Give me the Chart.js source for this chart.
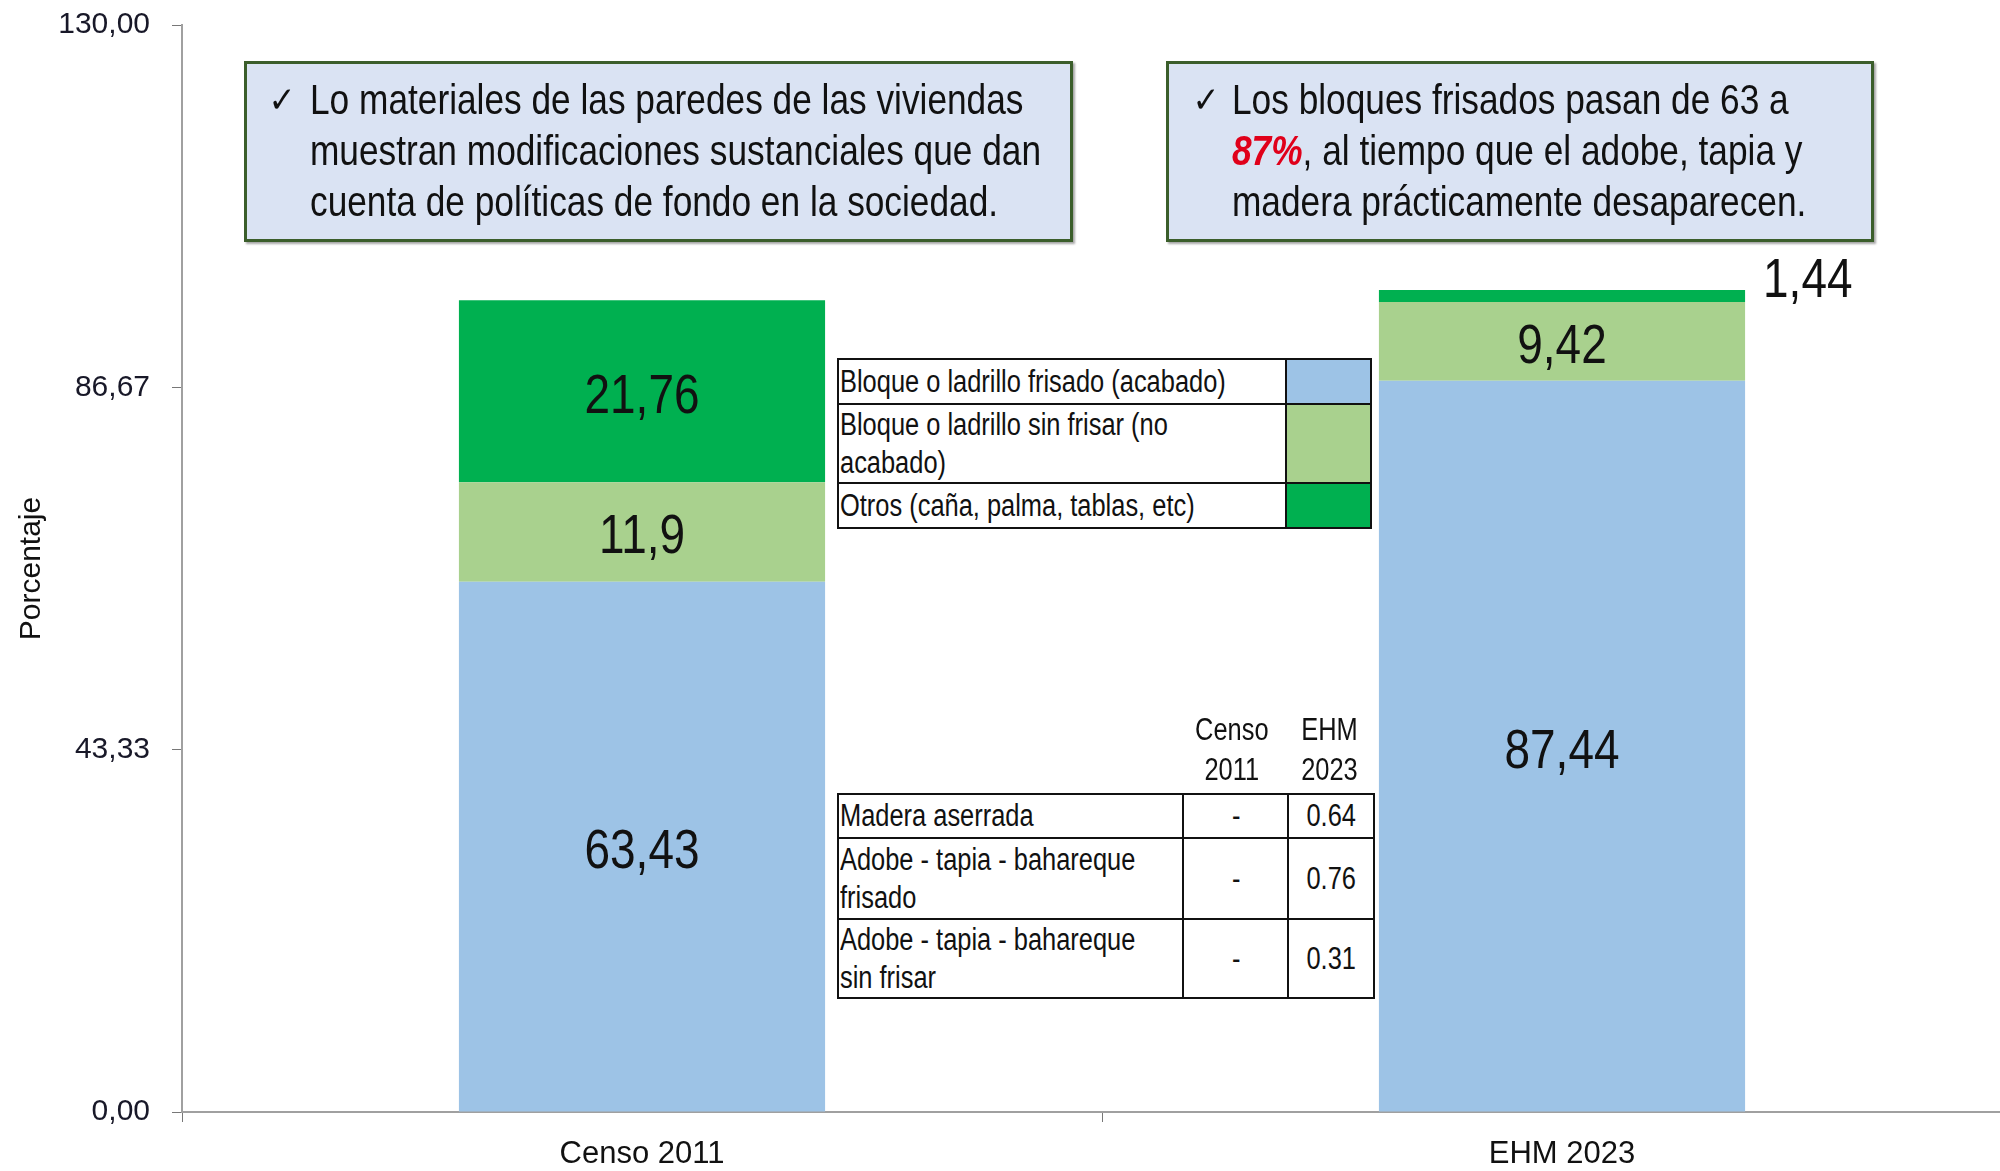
<!DOCTYPE html>
<html>
<head>
<meta charset="utf-8">
<script src="https://cdn.jsdelivr.net/npm/chart.js@4.4.1/dist/chart.umd.min.js"></script>
<style>
  html, body { margin: 0; padding: 0; background: #fff; overflow: hidden; }
  #wrap { position: relative; width: 2030px; height: 1171px; }
  canvas { position: absolute; left: 0; top: 0; }
  .narrow { font-family: 'Liberation Sans', Arial, sans-serif; color: #111; }
  .sq { display: inline-block; white-space: nowrap; transform: scaleX(0.82); transform-origin: 0 50%; }
  .sqc { display: inline-block; white-space: nowrap; transform: scaleX(0.82); transform-origin: 50% 50%; }
  .note {
    position: absolute; box-sizing: border-box;
    background: #dae3f3; border: 3px solid #3b5e2b;
    box-shadow: 2px 2px 2px rgba(0,0,0,0.35);
  }
  .note .chk { position: absolute; top: 10px; font-family: 'DejaVu Sans', sans-serif; font-size: 36px; line-height: 51px; color: #111; transform: scaleX(0.9); }
  .note .txt { position: absolute; top: 10px; font-size: 43px; line-height: 51px; white-space: nowrap; transform: scaleX(0.82); transform-origin: 0 0; }
  .red { color: #e0001a; font-weight: bold; font-style: italic; }
  table { position: absolute; border-collapse: collapse; background: #fff; table-layout: fixed; }
  td { border: 2px solid #111; padding: 0 0 0 1px; font-size: 31px; line-height: 38px; vertical-align: middle; overflow: visible; }
  .hdr { position: absolute; font-size: 31px; line-height: 40px; text-align: center; }
</style>
</head>
<body>
<div id="wrap">
  <canvas id="chart" width="2030" height="1171"></canvas>

  <div class="note narrow" style="left:244px; top:61px; width:829px; height:181px;">
    <span class="chk" style="left:20px;">✓</span>
    <div class="txt" style="left:63px;">Lo materiales de las paredes de las viviendas<br>muestran modificaciones sustanciales que dan<br>cuenta de políticas de fondo en la sociedad.</div>
  </div>
  <div class="note narrow" style="left:1166px; top:61px; width:708px; height:181px;">
    <span class="chk" style="left:22px;">✓</span>
    <div class="txt" style="left:63px;">Los bloques frisados pasan de 63 a<br><span class="red">87%</span>, al tiempo que el adobe, tapia y<br>madera prácticamente desaparecen.</div>
  </div>

  <table id="legend" class="narrow" style="left:837px; top:358px; width:535px;"></table>

  <div class="hdr narrow" style="left:1180px; top:710px; width:103px;"><span class="sqc">Censo<br>2011</span></div>
  <div class="hdr narrow" style="left:1283px; top:710px; width:92px;"><span class="sqc">EHM<br>2023</span></div>
  <table id="others" class="narrow" style="left:837px; top:793px; width:538px;"></table>
</div>

<script>
const categories = ['Censo 2011', 'EHM 2023'];
const seriesNames = [
  'Bloque o ladrillo frisado (acabado)',
  'Bloque o ladrillo sin frisar (no acabado)',
  'Otros (caña, palma, tablas, etc)'
];
const frisado = [63.43, 87.44];
const sinFrisar = [11.9, 9.42];
const otros = [21.76, 1.44];
const seriesColors = ['#9dc3e6', '#a9d18e', '#00b050'];
const yTickValues = [0, 43.33, 86.67, 130];

const otherMaterials = ['Madera aserrada', 'Adobe - tapia - bahareque frisado', 'Adobe - tapia - bahareque sin frisar'];
const otherCenso = ['-', '-', '-'];
const otherEhm = [0.64, 0.76, 0.31];

const SANS = "'Liberation Sans', Arial, sans-serif";

// legend table
const legendRows = [45, 79, 45];
document.getElementById('legend').innerHTML = seriesNames.map((name, i) =>
  '<tr style="height:' + legendRows[i] + 'px"><td style="width:445px"><span class="sq">' +
  name.replace(' (no acabado)', ' (no<br>acabado)') +
  '</span></td><td style="background:' + seriesColors[i] + '"></td></tr>'
).join('');

// other materials table
const otherRows = [44, 81, 79];
document.getElementById('others').innerHTML = otherMaterials.map((name, i) =>
  '<tr style="height:' + otherRows[i] + 'px"><td style="width:342px"><span class="sq">' +
  name.replace('bahareque ', 'bahareque<br>') +
  '</span></td><td style="width:102px;text-align:center"><span class="sqc">' + otherCenso[i] +
  '</span></td><td style="text-align:center"><span class="sqc">' + otherEhm[i].toFixed(2) + '</span></td></tr>'
).join('');

// numbers on the bars, squeezed like the narrow font of the original
const valueLabels = {
  id: 'valueLabels',
  afterDatasetsDraw(chart) {
    const ctx = chart.ctx;
    chart.data.datasets.forEach((ds, i) => {
      chart.getDatasetMeta(i).data.forEach((bar, j) => {
        const txt = String(ds.data[j]).replace('.', ',');
        const h = bar.base - bar.y;
        ctx.save();
        ctx.font = '56px ' + SANS;
        ctx.fillStyle = '#111';
        if (h > 60) {
          ctx.translate(bar.x, (bar.y + bar.base) / 2 + 6);
          ctx.scale(0.82, 1);
          ctx.textAlign = 'center';
          ctx.textBaseline = 'middle';
          ctx.fillText(txt, 0, 0);
        } else {
          ctx.translate(bar.x + bar.width / 2 + 18, bar.y + 7);
          ctx.scale(0.82, 1);
          ctx.textAlign = 'left';
          ctx.textBaseline = 'alphabetic';
          ctx.fillText(txt, 0, 0);
        }
        ctx.restore();
      });
    });
  }
};

new Chart(document.getElementById('chart'), {
  type: 'bar',
  data: {
    labels: categories,
    datasets: [
      { label: seriesNames[0], data: frisado, backgroundColor: seriesColors[0] },
      { label: seriesNames[1], data: sinFrisar, backgroundColor: seriesColors[1] },
      { label: seriesNames[2], data: otros, backgroundColor: seriesColors[2] }
    ]
  },
  options: {
    responsive: false,
    animation: false,
    devicePixelRatio: 1,
    categoryPercentage: 1,
    barPercentage: 0.398,
    layout: { padding: { top: 25, right: 8, left: 0, bottom: 0 } },
    plugins: {
      legend: { display: false },
      tooltip: { enabled: false }
    },
    scales: {
      x: {
        stacked: true,
        grid: { drawOnChartArea: false, drawTicks: true, tickLength: 10, color: '#777', offset: true },
        border: { color: '#a0a0a0', width: 2 },
        ticks: { color: '#111', font: { family: SANS, size: 31 }, padding: 14 },
        afterFit: s => { s.height = 59; }
      },
      y: {
        stacked: true,
        min: 0,
        max: 130,
        afterBuildTicks: s => { s.ticks = yTickValues.map(v => ({ value: v })); },
        grid: { drawOnChartArea: false, drawTicks: true, tickLength: 10, color: '#777' },
        border: { color: '#a0a0a0', width: 2 },
        ticks: {
          color: '#181828',
          font: { family: SANS, size: 30 },
          padding: 22,
          callback: v => v.toFixed(2).replace('.', ',')
        },
        title: {
          display: true,
          text: 'Porcentaje',
          color: '#111',
          font: { family: SANS, size: 30 },
          padding: { top: 14, bottom: 0 }
        },
        afterFit: s => { s.width = 182; s.paddingTop = 0; s.paddingBottom = 0; }
      }
    }
  },
  plugins: [valueLabels]
});
</script>
</body>
</html>
